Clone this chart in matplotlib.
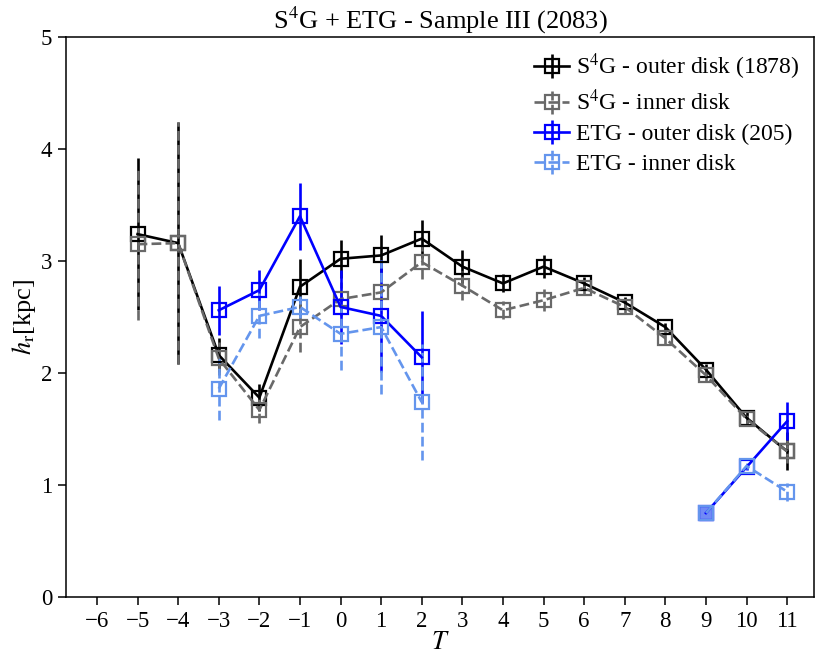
import numpy as np
import matplotlib
matplotlib.use("Agg")
import matplotlib.pyplot as plt

T_s4g = [-5, -4, -3, -2, -1, 0, 1, 2, 3, 4, 5, 6, 7, 8, 9, 10, 11]
s4g_outer = [3.24, 3.16, 2.16, 1.78, 2.77, 3.02, 3.05, 3.20, 2.95, 2.80, 2.95, 2.80, 2.63, 2.41, 2.03, 1.60, 1.30]
s4g_outer_err = [0.68, 1.08, 0.15, 0.12, 0.25, 0.17, 0.18, 0.17, 0.15, 0.08, 0.10, 0.06, 0.05, 0.04, 0.05, 0.05, 0.17]
s4g_inner = [3.15, 3.16, 2.13, 1.67, 2.41, 2.66, 2.72, 2.99, 2.78, 2.56, 2.65, 2.76, 2.59, 2.31, 1.98, 1.59, 1.30]
s4g_inner_err = [0.68, 1.08, 0.15, 0.12, 0.22, 0.15, 0.15, 0.15, 0.13, 0.08, 0.10, 0.06, 0.05, 0.05, 0.05, 0.05, 0.10]

T_etg = [-3, -2, -1, 0, 1, 2, 3, 4, 5, 6, 7, 8, 9, 10, 11]
etg_outer = [2.56, 2.74, 3.40, 2.59, 2.51, 2.14, np.nan, np.nan, np.nan, np.nan, np.nan, np.nan, 0.75, 1.16, 1.57]
etg_outer_err = [0.22, 0.18, 0.30, 0.33, 0.50, 0.41, np.nan, np.nan, np.nan, np.nan, np.nan, np.nan, 0.0, 0.03, 0.17]
etg_inner = [1.86, 2.51, 2.59, 2.35, 2.41, 1.74, np.nan, np.nan, np.nan, np.nan, np.nan, np.nan, 0.75, 1.17, 0.94]
etg_inner_err = [0.28, 0.20, 0.10, 0.32, 0.60, 0.52, np.nan, np.nan, np.nan, np.nan, np.nan, np.nan, 0.0, 0.03, 0.08]
etg_single_T = [9]

labels = [r"S$^4$G - outer disk (1878)", r"S$^4$G - inner disk",
          "ETG - outer disk (205)", "ETG - inner disk"]
colors = ["black", "dimgray", "blue", "cornflowerblue"]

plt.rcParams['font.family'] = ['Liberation Serif', 'DejaVu Serif']
plt.rcParams['mathtext.fontset'] = 'stix'

fig = plt.figure(figsize=(8.16, 6.66), dpi=100)
ax = fig.add_axes([0.081, 0.1036, 0.9165, 0.8408])

series = [(T_s4g, s4g_outer, s4g_outer_err, '-'),
          (T_s4g, s4g_inner, s4g_inner_err, '--'),
          (T_etg, etg_outer, etg_outer_err, '-'),
          (T_etg, etg_inner, etg_inner_err, '--')]

for (x, y, e, ls), lab, c in zip(series, labels, colors):
    eb = ax.errorbar(x, y, yerr=e, color=c, ls=ls, lw=1.9, marker='s', ms=10,
                     mfc='none', mec=c, mew=1.6, elinewidth=1.9, capsize=0, label=lab)
    if ls == '--':
        eb[2][0].set_linestyle('--')

# filled markers where the ETG sample reduces to one point
for y, c in [(etg_outer, 'blue'), (etg_inner, 'cornflowerblue')]:
    xs = [t for t in etg_single_T]
    ys = [y[T_etg.index(t)] for t in etg_single_T]
    ax.plot(xs, ys, ls='none', marker='s', ms=10, mfc=c, mec=c, alpha=0.5)

ax.set_xlim(-6.76, 11.66)
ax.set_ylim(0, 5)
ax.set_xticks(range(-6, 12))
ax.set_yticks(range(0, 6))
ax.tick_params(labelsize=16.5, direction='out', length=6, width=1.1, pad=4)
for s in ax.spines.values():
    s.set_linewidth(1.1)
ax.set_xlabel(r"$T$", fontsize=19, labelpad=0)
ax.set_ylabel(r"$h_{\rm r}$[kpc]", fontsize=19, labelpad=2)
ax.set_title(r"S$^4$G + ETG - Sample III (2083)", fontsize=19, pad=6)
ax.legend(loc='upper right', fontsize=17, frameon=False, handlelength=1.5,
          handletextpad=0.3, borderaxespad=0.2, labelspacing=0.35)

fig.savefig("out.png", dpi=100)
